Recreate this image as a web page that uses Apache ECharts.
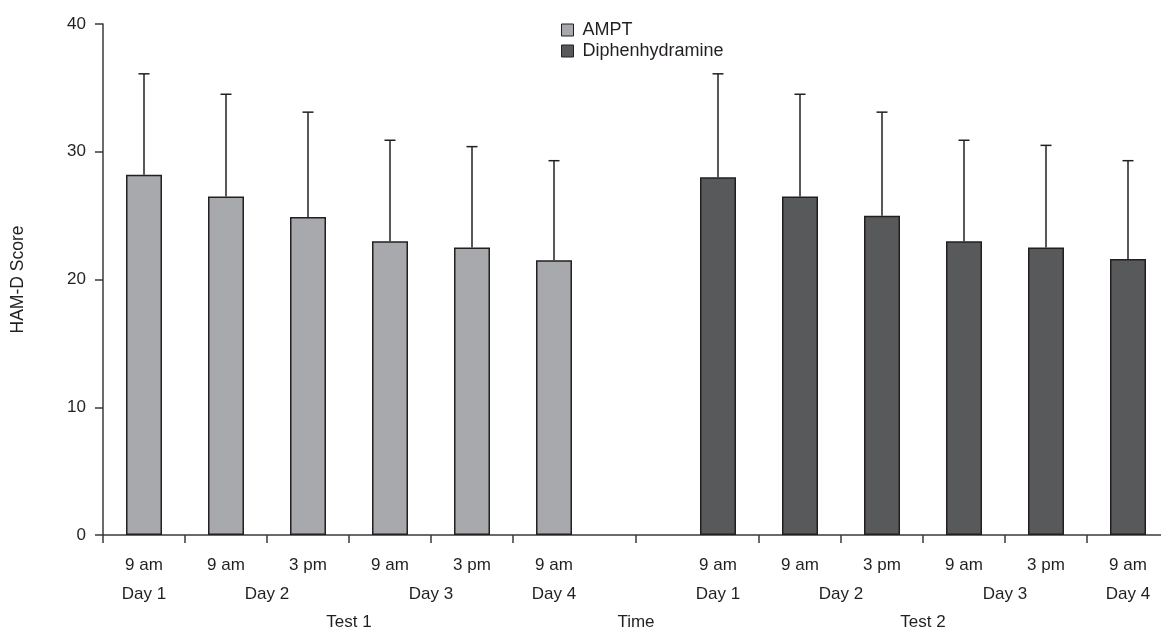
<!DOCTYPE html>
<html>
<head>
<meta charset="utf-8">
<script src="https://cdn.jsdelivr.net/npm/echarts@6/dist/echarts.min.js"></script>
<style>
html,body{margin:0;padding:0;background:#fff;}
#chart{width:1161px;height:630px;}
</style>
</head>
<body>
<div id="chart"></div>
<script>
// ---- data ----
const timeLabels = ['9 am','9 am','3 pm','9 am','3 pm','9 am','','9 am','9 am','3 pm','9 am','3 pm','9 am'];
const dayLabels = ['', 'Day 1', '', '', 'Day 2', '', '', '', 'Day 3', '', '', 'Day 4', '', '',
                   '', 'Day 1', '', '', 'Day 2', '', '', '', 'Day 3', '', '', 'Day 4', ''];
const groupLabels = ['', '', '', '', '', '', 'Test 1', '', '', '', '', '', '', 'Time',
                     '', '', '', '', '', '', 'Test 2', '', '', '', '', '', ''];
const amptMean  = [28.2, 26.5, 24.9, 23.0, 22.5, 21.5];
const amptUpper = [36.1, 34.5, 33.1, 30.9, 30.4, 29.3];
const diphMean  = [28.0, 26.5, 25.0, 23.0, 22.5, 21.6];
const diphUpper = [36.1, 34.5, 33.1, 30.9, 30.5, 29.3];
const test2Start = 7;

// ---- build ----
const ink = '#231f20';
const axisInk = '#3a3a3a';
const font = "'Liberation Sans', Arial, sans-serif";
const amptBars = timeLabels.map((_, i) => i < amptMean.length ? amptMean[i] : '-');
const diphBars = timeLabels.map((_, i) => (i >= test2Start && i - test2Start < diphMean.length) ? diphMean[i - test2Start] : '-');
const errData = amptMean.map((v, i) => [i, v, amptUpper[i]])
  .concat(diphMean.map((v, i) => [i + test2Start, v, diphUpper[i]]));

function renderErr(params, api) {
  const x = api.value(0);
  const p0 = api.coord([x, api.value(1)]);
  const p1 = api.coord([x, api.value(2)]);
  const hw = 5.5;
  const style = { stroke: ink, lineWidth: 1.5 };
  return {
    type: 'group',
    children: [
      { type: 'line', shape: { x1: p0[0], y1: p0[1], x2: p1[0], y2: p1[1] }, style: style },
      { type: 'line', shape: { x1: p1[0] - hw, y1: p1[1], x2: p1[0] + hw, y2: p1[1] }, style: style }
    ]
  };
}

const chart = echarts.init(document.getElementById('chart'), null, { renderer: 'canvas' });
chart.setOption({
  backgroundColor: '#fff',
  animation: false,
  textStyle: { fontFamily: font, color: ink },
  legend: {
    data: ['AMPT', 'Diphenhydramine'],
    orient: 'vertical',
    left: 561, top: 21, padding: 0,
    itemWidth: 12, itemHeight: 12, itemGap: 3,
    icon: 'rect',
    textStyle: { fontSize: 18, color: ink, fontFamily: font, padding: [0, 0, 0, 4] },
    itemStyle: { borderColor: ink, borderWidth: 1 }
  },
  grid: { left: 103, top: 24, width: 1066, height: 511, containLabel: false, outerBoundsMode: 'none' },
  xAxis: [
    {
      type: 'category', data: timeLabels, boundaryGap: true,
      axisLine: { show: true, lineStyle: { color: axisInk, width: 1.5 } },
      axisTick: { show: true, length: 8, lineStyle: { color: axisInk, width: 1.5 },
        interval: function (idx) { return idx !== 6 && idx !== 7; } },
      axisLabel: { interval: 0, margin: 22, fontSize: 17, color: ink, fontFamily: font },
      splitLine: { show: false }
    },
    {
      type: 'category', data: dayLabels, boundaryGap: false, position: 'bottom',
      axisLine: { show: false },
      axisTick: { show: true, length: 8, lineStyle: { color: axisInk, width: 1.5 },
        interval: function (idx) { return idx === 13; } },
      axisLabel: { interval: 0, margin: 51, fontSize: 17, color: ink, fontFamily: font },
      splitLine: { show: false }
    },
    {
      type: 'category', data: groupLabels, boundaryGap: false, position: 'bottom',
      axisLine: { show: false }, axisTick: { show: false },
      axisLabel: { interval: 0, margin: 79, fontSize: 17, color: ink, fontFamily: font },
      splitLine: { show: false }
    }
  ],
  yAxis: {
    type: 'value', min: 0, max: 40, interval: 10,
    name: 'HAM-D Score', nameLocation: 'middle', nameGap: 76, nameRotate: 90,
    nameTextStyle: { fontSize: 17.5, color: ink, fontFamily: font },
    axisLine: { show: true, lineStyle: { color: axisInk, width: 1.5 } },
    axisTick: { show: true, length: 8, lineStyle: { color: axisInk, width: 1.5 } },
    axisLabel: { fontSize: 17, margin: 17, color: ink, fontFamily: font },
    splitLine: { show: false }
  },
  series: [
    {
      name: 'AMPT', type: 'bar', data: amptBars, barWidth: 36, barGap: '-100%',
      itemStyle: { color: '#a7a9ac', borderColor: ink, borderWidth: 1.5 }
    },
    {
      name: 'Diphenhydramine', type: 'bar', data: diphBars, barWidth: 36, barGap: '-100%',
      itemStyle: { color: '#58595b', borderColor: ink, borderWidth: 1.5 }
    },
    {
      name: 'err', type: 'custom', data: errData, renderItem: renderErr, z: 5,
      encode: { x: 0, y: [1, 2] }
    }
  ]
});
</script>
</body>
</html>
